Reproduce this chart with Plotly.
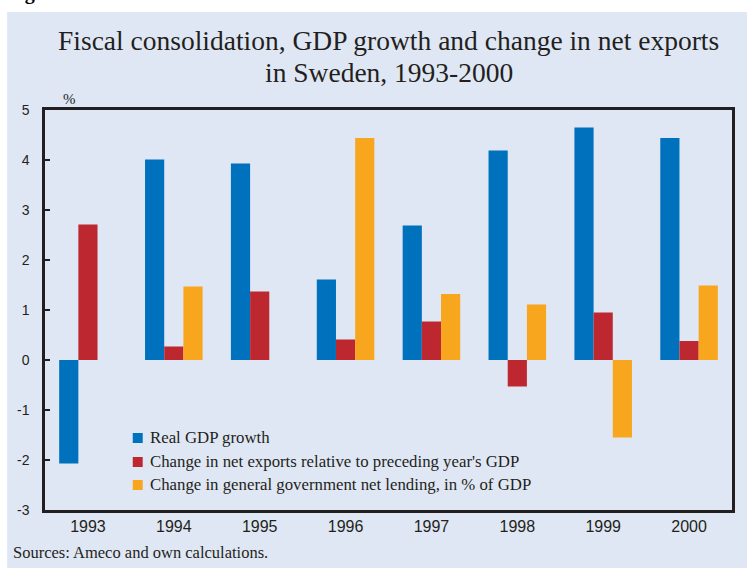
import plotly.graph_objects as go

# Data (per cent)
years = [1993, 1994, 1995, 1996, 1997, 1998, 1999, 2000]
real_gdp_growth = [-2.07, 4.01, 3.93, 1.61, 2.69, 4.19, 4.65, 4.44]
net_exports_change = [2.71, 0.27, 1.37, 0.41, 0.77, -0.53, 0.95, 0.38]
net_lending_change = [None, 1.47, None, 4.44, 1.32, 1.11, -1.55, 1.49]

series_names = [
    "Real GDP growth",
    "Change in net exports relative to preceding year's GDP",
    "Change in general government net lending, in % of GDP",
]
series_colors = ["#0071BC", "#BD2830", "#F7A61E"]
y_ticks = [-3, -2, -1, 0, 1, 2, 3, 4, 5]
title_lines = ["Fiscal consolidation, GDP growth and change in net exports",
               "in Sweden, 1993-2000"]

INK = "#231F20"
PANEL = "#E0E7F4"
SERIF = "Liberation Serif"
SANS = "Liberation Sans"

# plot area geometry in pixels, used to place paper-referenced items
W, H = 747, 568
ML, MR, MT, MB = 45, 13, 110, 58
PW, PH = W - ML - MR, H - MT - MB


def px_x(px):
    return (px - ML) / PW


def px_y(py):
    return (H - MB - py) / PH


fig = go.Figure()
for name, vals, col in zip(series_names,
                           [real_gdp_growth, net_exports_change, net_lending_change],
                           series_colors):
    fig.add_trace(go.Bar(x=years, y=vals, name=name, marker_color=col,
                         marker_line_width=0, showlegend=False))

boundaries = [y + 0.5 for y in years[:-1]]
x_range = [years[0] - 0.5, years[-1] + 0.5]
zero_pos = (0 - y_ticks[0]) / (y_ticks[-1] - y_ticks[0])

fig.update_layout(
    width=W, height=H,
    margin=dict(l=ML, r=MR, t=MT, b=MB),
    paper_bgcolor="white",
    plot_bgcolor="white",
    barmode="group",
    bargap=0.33,
    bargroupgap=0,
    xaxis=dict(
        range=x_range,
        tickvals=years, ticktext=[str(y) for y in years],
        ticks="", showgrid=False, zeroline=False,
        showline=True, linecolor=INK, linewidth=2.5, mirror=True,
        tickfont=dict(family=SANS, size=16, color=INK),
    ),
    # tick marks at the category boundaries on the bottom axis
    xaxis2=dict(
        overlaying="x", anchor="y", side="bottom", range=x_range,
        tickvals=boundaries, ticks="inside", ticklen=6, tickwidth=2,
        tickcolor=INK, showticklabels=False, showgrid=False,
        zeroline=False, showline=False,
    ),
    # boundary ticks crossing the zero line
    xaxis3=dict(
        overlaying="x", anchor="free", position=zero_pos, side="bottom",
        range=x_range, tickvals=boundaries, ticks="outside", ticklen=5,
        tickwidth=2, tickcolor=INK, showticklabels=False, showgrid=False,
        zeroline=False, showline=True, linecolor=INK, linewidth=2.5,
    ),
    xaxis4=dict(
        overlaying="x", anchor="free", position=zero_pos, side="bottom",
        range=x_range, tickvals=boundaries, ticks="inside", ticklen=5,
        tickwidth=2, tickcolor=INK, showticklabels=False, showgrid=False,
        zeroline=False, showline=False,
    ),
    yaxis=dict(
        range=[y_ticks[0], y_ticks[-1]], tickvals=y_ticks,
        ticktext=[str(v) for v in y_ticks],
        ticks="inside", ticklen=5, tickwidth=2, tickcolor=INK,
        showgrid=False, zeroline=False,
        showline=True, linecolor=INK, linewidth=2.5, mirror=True,
        tickfont=dict(family=SANS, size=14, color=INK),
        ticklabelstandoff=10,
    ),
)

# light blue panel behind the chart
fig.add_shape(type="rect", xref="paper", yref="paper",
              x0=px_x(7), x1=px_x(W + 2), y0=px_y(H + 2), y1=px_y(12),
              fillcolor=PANEL, line_width=0, layer="below")

# two-line title
for line, cy in zip(title_lines, [41, 72]):
    fig.add_annotation(text=line, xref="paper", yref="paper", x=0.5,
                       y=px_y(cy), xanchor="center", yanchor="middle",
                       showarrow=False,
                       font=dict(family=SERIF, size=27.5, color=INK))

# legend: coloured squares with labels
for name, col, cy in zip(series_names, series_colors, [438, 462, 485]):
    fig.add_shape(type="rect", xref="paper", yref="paper",
                  x0=px_x(133), x1=px_x(143), y0=px_y(cy + 5), y1=px_y(cy - 5),
                  fillcolor=col, line_width=0)
    fig.add_annotation(text=name, xref="paper", yref="paper", x=px_x(148),
                       y=px_y(cy - 1), xanchor="left", yanchor="middle",
                       showarrow=False,
                       font=dict(family=SERIF, size=16.8, color=INK))

fig.add_annotation(text="%", xref="paper", yref="paper", x=px_x(61),
                   y=px_y(99), xanchor="left", yanchor="middle",
                   showarrow=False, font=dict(family=SERIF, size=15, color=INK))
fig.add_annotation(text="Sources: Ameco and own calculations.", xref="paper",
                   yref="paper", x=px_x(11), y=px_y(552), xanchor="left",
                   yanchor="middle", showarrow=False,
                   font=dict(family=SERIF, size=16.5, color=INK))
fig.add_annotation(text="<b>Figure 4.11</b>", xref="paper", yref="paper",
                   x=px_x(5), y=px_y(6.5), xanchor="left", yanchor="bottom",
                   showarrow=False,
                   font=dict(family=SERIF, size=20, color="#000000"))

fig.write_html("out.html")
